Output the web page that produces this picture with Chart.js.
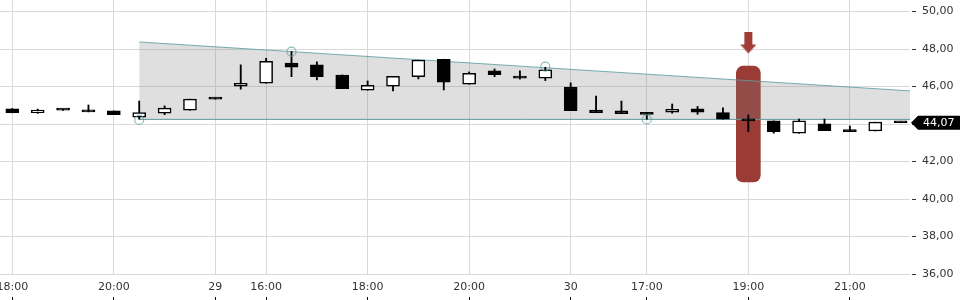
<!DOCTYPE html>
<html>
<head>
<meta charset="utf-8">
<script src="https://cdn.jsdelivr.net/npm/chart.js@4.4.1/dist/chart.umd.min.js"></script>
<style>
  html, body { margin: 0; padding: 0; background: #fff; }
</style>
</head>
<body>
<canvas id="chart" width="960" height="300"></canvas>
<script>
// Candles, 30 min each
const opens  = [44.81, 44.61, 44.74, 44.74, 44.70, 44.37, 44.58, 44.74, 45.33, 46.02, 46.18, 47.26,
                47.16, 46.62, 45.81, 46.02, 46.53, 47.46, 46.13, 46.84, 46.45, 46.45, 45.98, 44.75,
                44.70, 44.59, 44.63, 44.81, 44.61, 44.17, 44.17, 43.51, 44.01, 43.69, 43.63, 44.07];
const highs  = [44.83, 44.80, 44.75, 45.02, 44.70, 45.23, 44.97, 45.33, 45.33, 47.16, 47.51, 47.87,
                47.32, 46.62, 46.30, 46.55, 47.41, 47.46, 46.78, 46.94, 46.84, 47.03, 46.20, 45.50,
                45.23, 44.59, 45.07, 44.94, 44.86, 44.49, 44.17, 44.27, 44.27, 43.90, 44.10, 44.07];
const lows   = [44.60, 44.57, 44.73, 44.65, 44.50, 44.26, 44.50, 44.74, 45.33, 45.86, 46.18, 46.53,
                46.36, 45.89, 45.81, 45.77, 46.41, 45.82, 46.13, 46.53, 46.40, 46.32, 44.72, 44.61,
                44.56, 44.26, 44.58, 44.52, 44.26, 43.60, 43.51, 43.51, 43.65, 43.60, 43.63, 44.07];
const closes = [44.61, 44.75, 44.74, 44.65, 44.50, 44.61, 44.85, 45.33, 45.33, 46.18, 47.35, 47.03,
                46.53, 45.89, 46.07, 46.55, 47.41, 46.23, 46.71, 46.64, 46.45, 46.89, 44.72, 44.61,
                44.56, 44.52, 44.79, 44.63, 44.26, 44.17, 43.60, 44.17, 43.65, 43.60, 44.10, 44.07];

const xTickPos    = [0, 4, 8, 10, 14, 18, 22, 25, 29, 33];
const xTickLabels = ['18:00', '20:00', '29', '16:00', '18:00', '20:00', '30', '17:00', '19:00', '21:00'];
const yTicks = [36, 38, 40, 42, 44, 46, 48, 50];

const xMin = -0.485, xMax = 35.37;
const yMin = 36, yMax = 50.62;

// Channel (start candle, value at start / at right edge)
const channelStart = 5;
const channelTop = [48.38, 45.77];
const channelBottom = [44.25, 44.25];
const touchIdx  = [5, 11, 21, 25];
const touchVals = [44.22, 47.87, 47.07, 44.25];

// Signal candle
const signalIdx = 29;
const signalRange = [40.91, 47.09];
const arrowLevel = 48.3;

const teal = 'rgb(95, 158, 160)';
const signalRed = '#9b3b36';
const gridColor = '#d9d9d9';
const fmt = v => v.toFixed(2).replace('.', ',');

Chart.defaults.font.family = '"DejaVu Sans", sans-serif';
Chart.defaults.font.size = 11;

function makeArrow(color) {
  const c = document.createElement('canvas');
  c.width = 16;
  c.height = 22;
  const g = c.getContext('2d');
  g.fillStyle = color;
  g.beginPath();
  g.moveTo(4, 0);
  g.lineTo(12, 0);
  g.lineTo(12, 12);
  g.lineTo(16, 12);
  g.lineTo(8, 21);
  g.lineTo(0, 12);
  g.lineTo(4, 12);
  g.closePath();
  g.fill();
  return c;
}

// black tag with the last price on the right axis
const priceTag = {
  id: 'priceTag',
  afterDraw(chart) {
    const { ctx, chartArea, scales } = chart;
    const last = closes[closes.length - 1];
    const y = scales.y.getPixelForValue(last);
    const x0 = chartArea.right;
    ctx.save();
    ctx.fillStyle = '#000';
    ctx.beginPath();
    ctx.moveTo(x0 + 1, y);
    ctx.lineTo(x0 + 8, y - 7);
    ctx.lineTo(chart.width, y - 7);
    ctx.lineTo(chart.width, y + 7);
    ctx.lineTo(x0 + 8, y + 7);
    ctx.closePath();
    ctx.fill();
    ctx.fillStyle = '#fff';
    ctx.font = '11px "DejaVu Sans"';
    ctx.textBaseline = 'middle';
    ctx.fillText(fmt(last), x0 + 13, y + 0.5);
    ctx.restore();
  }
};

const xTicks = s => { s.ticks = xTickPos.map(v => ({ value: v })); };
const noPad = s => {
  s.paddingLeft = 0;
  s.paddingRight = 0;
  s.paddingTop = 0;
  s.paddingBottom = 0;
};

new Chart(document.getElementById('chart'), {
  type: 'bar',
  data: {
    datasets: [
      {
        type: 'bar',
        data: [{ x: signalIdx, y: signalRange }],
        backgroundColor: signalRed,
        barThickness: 24,
        borderRadius: 7,
        borderSkipped: false,
        grouped: false,
        order: 10
      },
      {
        type: 'line',
        data: [{ x: channelStart, y: channelTop[0] }, { x: xMax, y: channelTop[1] }],
        borderColor: 'rgba(95, 158, 160, 0.85)',
        borderWidth: 1,
        pointRadius: 0,
        fill: '+1',
        backgroundColor: 'rgba(128, 128, 128, 0.25)',
        order: 5
      },
      {
        type: 'line',
        data: [{ x: channelStart, y: channelBottom[0] }, { x: xMax, y: channelBottom[1] }],
        borderColor: teal,
        borderWidth: 1,
        pointRadius: 0,
        fill: false,
        order: 5
      },
      {
        // wicks
        type: 'bar',
        data: highs.map((h, i) => ({ x: i, y: [lows[i], h] })),
        backgroundColor: '#000',
        barThickness: 1.2,
        minBarLength: 1,
        grouped: false,
        order: 2
      },
      {
        // bodies
        type: 'bar',
        data: opens.map((o, i) => ({ x: i, y: [o, closes[i]] })),
        backgroundColor: opens.map((o, i) => closes[i] > o ? '#fff' : '#000'),
        borderColor: '#000',
        borderWidth: 1.5,
        borderSkipped: false,
        barThickness: 13,
        minBarLength: 2,
        grouped: false,
        order: 1
      },
      {
        type: 'line',
        data: touchIdx.map((x, i) => ({ x: x, y: touchVals[i] })),
        showLine: false,
        pointRadius: 4.5,
        pointBorderWidth: 1.2,
        pointBorderColor: 'rgba(95, 158, 160, 0.7)',
        pointBackgroundColor: 'rgba(0, 0, 0, 0)',
        order: 0
      },
      {
        type: 'line',
        data: [{ x: signalIdx, y: arrowLevel }],
        showLine: false,
        pointStyle: makeArrow('#a03c35'),
        pointRadius: 10,
        order: 0
      }
    ]
  },
  options: {
    responsive: false,
    animation: false,
    events: [],
    layout: { autoPadding: false, padding: { left: 0, right: 0.5, top: 0, bottom: 0 } },
    plugins: { legend: { display: false }, tooltip: { enabled: false } },
    scales: {
      x: {
        type: 'linear',
        min: xMin,
        max: xMax,
        offset: false,
        afterBuildTicks: xTicks,
        afterFit: noPad,
        ticks: {
          autoSkip: false,
          maxRotation: 0,
          padding: 2.5,
          color: '#333',
          callback: (v, i) => xTickLabels[i]
        },
        grid: { color: gridColor, tickLength: 4.5, tickColor: 'rgba(0, 0, 0, 0)', offset: false },
        border: { display: false }
      },
      x2: {
        type: 'linear',
        position: 'bottom',
        weight: 1,
        min: xMin,
        max: xMax,
        offset: false,
        afterBuildTicks: xTicks,
        afterFit: noPad,
        ticks: { display: false },
        grid: {
          drawOnChartArea: false,
          offset: false,
          tickLength: 3.3,
          tickColor: '#000'
        },
        border: { display: false }
      },
      y: {
        position: 'right',
        min: yMin,
        max: yMax,
        afterBuildTicks: s => { s.ticks = yTicks.map(v => ({ value: v })); },
        afterFit: noPad,
        ticks: { padding: 6, color: '#333', callback: v => fmt(v) },
        grid: {
          color: gridColor,
          tickLength: 6,
          tickColor: '#333',
          tickBorderDash: [0, 2, 4, 10]
        },
        border: { display: false }
      }
    }
  },
  plugins: [priceTag]
});
</script>
</body>
</html>
